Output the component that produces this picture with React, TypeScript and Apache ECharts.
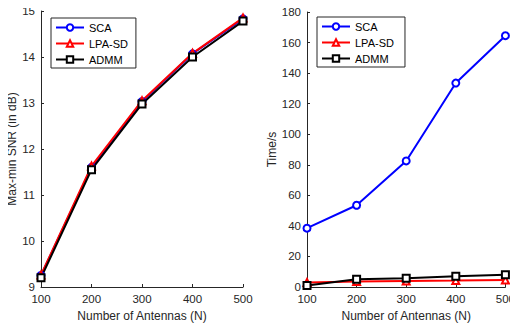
import React, { useEffect, useRef } from "react";
import * as echarts from "echarts";

const antennas = ["100", "200", "300", "400", "500"];
const snrSCA = [9.25, 11.6, 13.03, 14.07, 14.83];
const snrLPA = [9.26, 11.63, 13.05, 14.08, 14.85];
const snrADMM = [9.2, 11.55, 12.98, 14.0, 14.78];
const timeSCA = [38.5, 53.5, 82.5, 133.5, 164.5];
const timeLPA = [3.0, 3.6, 3.9, 4.2, 4.6];
const timeADMM = [1.0, 5.0, 5.8, 7.0, 8.0];

const FONT = "Liberation Sans";
const TXT = "#262626";

export default function App() {
  const ref = useRef<HTMLDivElement>(null);
  useEffect(() => {
    const chart = echarts.init(ref.current!, null, { renderer: "svg" });
    const xAxisBase = (gi: number) => ({
      type: "value" as const,
      gridIndex: gi,
      min: 100,
      max: 500,
      interval: 100,
      name: "Number of Antennas (N)",
      nameLocation: "middle" as const,
      nameGap: 23,
      nameTextStyle: { color: TXT, fontSize: 12, fontFamily: FONT },
      axisLine: { lineStyle: { color: "#262626", width: 1 } },
      axisTick: { inside: true, length: 3, lineStyle: { color: "#262626" } },
      axisLabel: { color: TXT, fontSize: 11.5, fontFamily: FONT, margin: 6 },
      splitLine: { show: false },
    });
    const yAxisBase = (gi: number) => ({
      type: "value" as const,
      gridIndex: gi,
      nameLocation: "middle" as const,
      nameTextStyle: { color: TXT, fontSize: 12, fontFamily: FONT },
      axisLine: { show: true, lineStyle: { color: "#262626", width: 1 } },
      axisTick: { show: true, inside: true, length: 3, lineStyle: { color: "#262626" } },
      axisLabel: { color: TXT, fontSize: 11.5, fontFamily: FONT, margin: 6 },
      splitLine: { show: false },
    });
    const ser = (
      name: string,
      data: number[],
      gi: number,
      color: string,
      symbol: string
    ) => ({
      name,
      type: "line" as const,
      xAxisIndex: gi,
      yAxisIndex: gi,
      data: data.map((v, i) => [Number(antennas[i]), v]),
      symbol,
      symbolSize: 7,
      lineStyle: { color, width: 2 },
      itemStyle: { color, borderColor: color, borderWidth: 1.5 },
      emphasis: { disabled: true },
    });
    const legendBase = {
      orient: "vertical" as const,
      itemWidth: 28,
      itemHeight: 8,
      itemGap: 5,
      padding: [4, 8, 3, 4],
      borderColor: "#262626",
      borderWidth: 1,
      backgroundColor: "#fff",
      textStyle: { color: "#000", fontSize: 11, fontFamily: FONT },
    };
    chart.setOption({
      animation: false,
      backgroundColor: "#fff",
      grid: [
        { left: 41, top: 11, width: 202, height: 282 },
        { left: 307, top: 12, width: 203, height: 281 },
      ],
      xAxis: [xAxisBase(0), xAxisBase(1)],
      yAxis: [
        { ...yAxisBase(0), min: 9, max: 15, interval: 1, name: "Max-min SNR (in dB)", nameGap: 22 },
        { ...yAxisBase(1), min: 0, max: 180, interval: 20, name: "Time/s", nameGap: 28 },
      ],
      legend: [
        {
          ...legendBase,
          left: 51,
          top: 18,
          data: ["SCA", "LPA-SD", "ADMM"].map((n) => ({ name: n })),
        },
        {
          ...legendBase,
          left: 317,
          top: 17,
          data: ["SCA ", "LPA-SD ", "ADMM "].map((n) => ({ name: n })),
        },
      ],
      series: [
        ser("SCA", snrSCA, 0, "#0000ff", "emptyCircle"),
        ser("LPA-SD", snrLPA, 0, "#ff0000", "emptyTriangle"),
        ser("ADMM", snrADMM, 0, "#000000", "emptyRect"),
        ser("SCA ", timeSCA, 1, "#0000ff", "emptyCircle"),
        ser("LPA-SD ", timeLPA, 1, "#ff0000", "emptyTriangle"),
        ser("ADMM ", timeADMM, 1, "#000000", "emptyRect"),
      ],
    });
    return () => chart.dispose();
  }, []);
  return <div ref={ref} style={{ width: 518, height: 327, marginLeft: -8, marginTop: -8 }} />;
}
